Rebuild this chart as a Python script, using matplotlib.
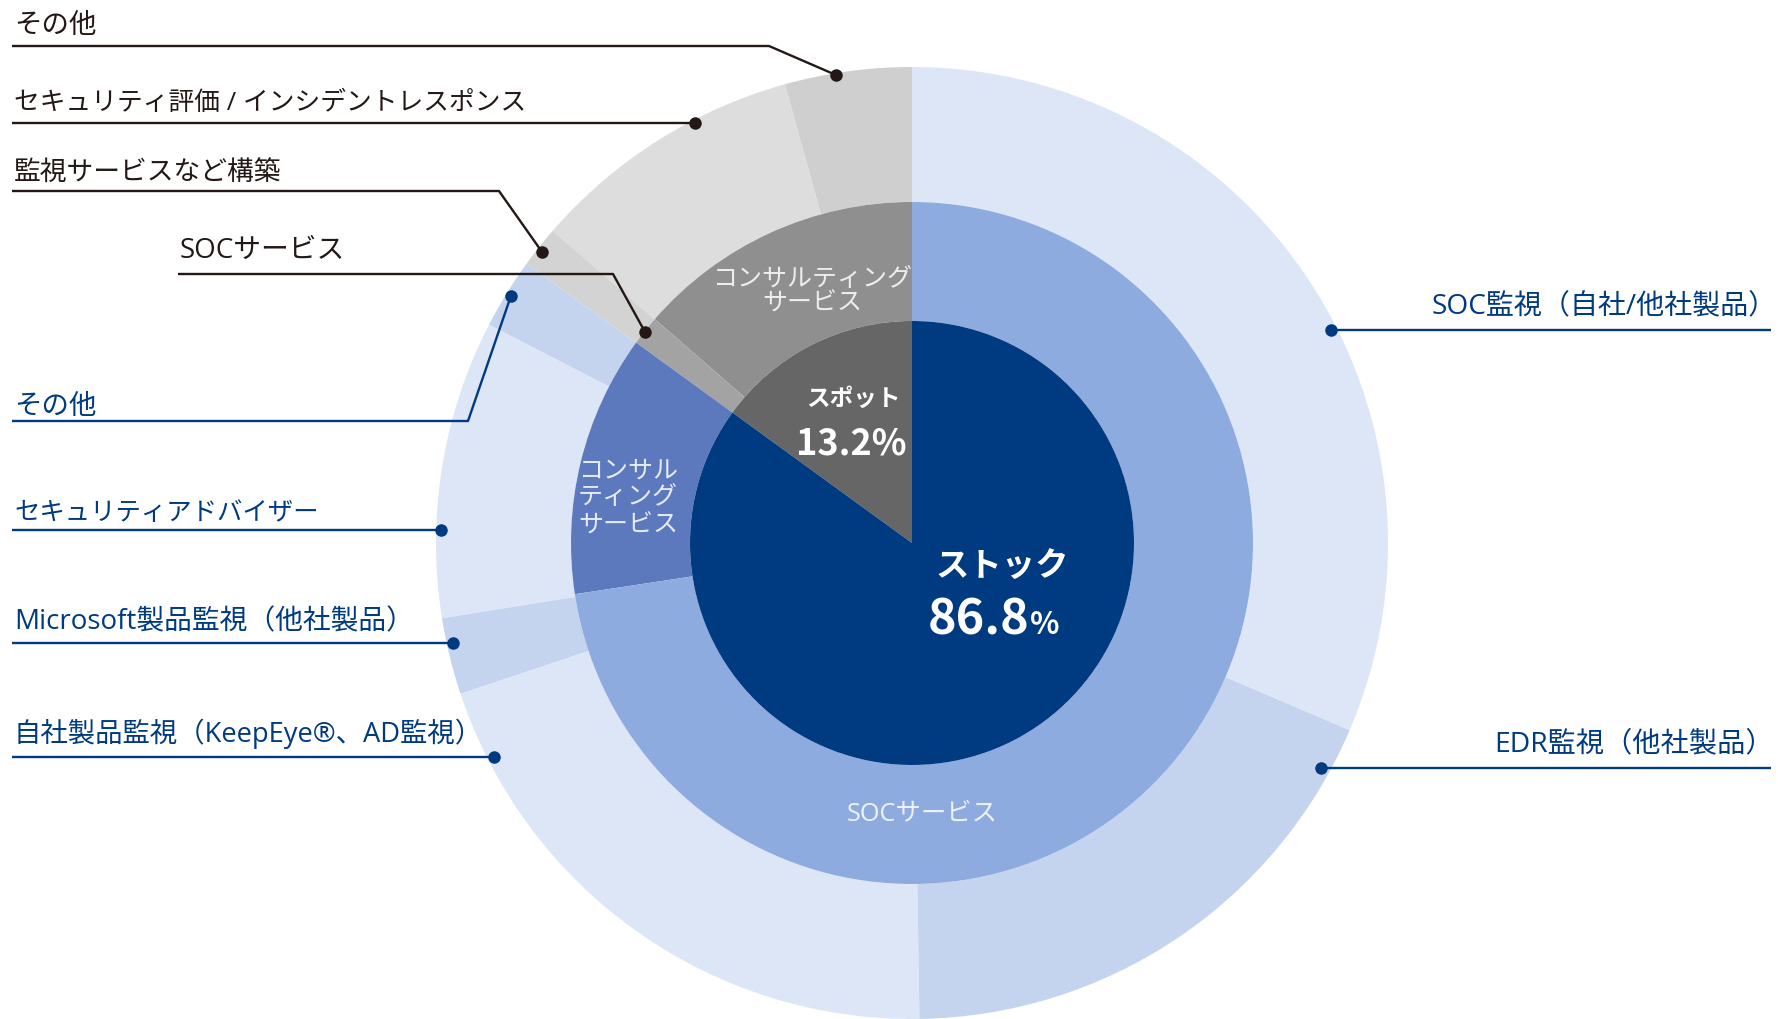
import numpy as np
import matplotlib.pyplot as plt

plt.rcParams['font.family'] = ['Noto Sans CJK JP', 'DejaVu Sans']
LABEL_FONT = ['Open Sans', 'Noto Sans CJK JP', 'DejaVu Sans']

# 内側：スポット / ストック（円上の占有率 %）
inner_labels = ['スポット', 'ストック']
inner_values = [15.0, 85.0]
inner_pct = ['13.2', '86.8']

# 中間：サービス区分
mid_labels = ['コンサルティング\nサービス', 'SOCサービス', 'コンサル\nティング\nサービス', 'SOCサービス']
mid_values = [13.6, 1.4, 12.4, 72.6]

# 外側：内訳
outer_labels = ['その他', 'セキュリティ評価 / インシデントレスポンス', '監視サービスなど構築',
                'その他', 'セキュリティアドバイザー', 'Microsoft製品監視（他社製品）',
                '自社製品監視（KeepEye®、AD監視）', 'EDR監視（他社製品）', 'SOC監視（自社/他社製品）']
outer_values = [4.3, 9.3, 1.4, 2.4, 10.1, 2.6, 20.1, 18.3, 31.4]

inner_colors = ['#666666', '#003a80']
mid_colors = ['#8f8f8f', '#a3a3a3', '#5d79bd', '#8eabe0']
outer_colors = ['#cfcfcf', '#dddddd', '#d3d3d3', '#c5d4ee', '#dce6f7',
                '#c5d4ee', '#dce6f7', '#c5d4ee', '#dce6f7']

GRAY_TXT = '#231815'
BLUE_TXT = '#003a80'

W, H = 1778, 1020
cx, cy = 912, H - 544
R_out, R_mid, R_in = 476, 341, 222

fig = plt.figure(figsize=(W / 100, H / 100), dpi=100)
ax = fig.add_axes([0, 0, 1, 1])

ax.pie(outer_values, radius=R_out, center=(cx, cy), startangle=90, colors=outer_colors,
       wedgeprops=dict(width=R_out - R_mid, linewidth=0))
ax.pie(mid_values, radius=R_mid, center=(cx, cy), startangle=90, colors=mid_colors,
       wedgeprops=dict(width=R_mid - R_in, linewidth=0))
ax.pie(inner_values, radius=R_in, center=(cx, cy), startangle=90, colors=inner_colors,
       wedgeprops=dict(linewidth=0))

ax.set_xlim(0, W)
ax.set_ylim(0, H)
ax.set_aspect('equal')
ax.axis('off')


def polar(angle, r):
    a = np.radians(angle)
    return cx + r * np.cos(a), cy + r * np.sin(a)


# 引き出し線: (テキスト, テキストy, 線y, 折れ点x, 角度, 半径, 色, 開始x, 側, 文字サイズ)
callouts = [
    (outer_labels[0], 26, 47, 769, 99.2, 474, GRAY_TXT, 12, 'left', 19.8),
    (outer_labels[1], 103, None, None, 117.3, 473, GRAY_TXT, 12, 'left', 18.5),
    (outer_labels[2], 174, 192, 499, 141.8, 471, GRAY_TXT, 12, 'left', 19.3),
    (mid_labels[1], 251, 275, 613, 141.7, 340, GRAY_TXT, 178, 'left', 20),
    (outer_labels[3], 407, 422, 468, 148.4, 471, BLUE_TXT, 12, 'left', 19.8),
    (outer_labels[4], 513, None, None, 178.4, 471, BLUE_TXT, 12, 'left', 18.3),
    (outer_labels[5], 622, None, None, 192.3, 470, BLUE_TXT, 12, 'left', 20),
    (outer_labels[6], 734, None, None, 207.1, 470, BLUE_TXT, 12, 'left', 19.7),
    (outer_labels[8], 306, None, None, 27.0, 470, BLUE_TXT, 1777, 'right', 20.2),
    (outer_labels[7], 744, None, None, 331.2, 467, BLUE_TXT, 1774, 'right', 20.3),
]

for text, ty, ly, ex, ang, r, col, x0, side, fs in callouts:
    dx, dy = polar(ang, r)
    if side == 'right':
        xs, ys = [dx, 1771], [dy, dy]
    elif ex is None:
        xs, ys = [x0, dx], [dy, dy]
    else:
        xs, ys = [x0, ex, dx], [H - ly, H - ly, dy]
    ax.plot(xs, ys, color=col, lw=1.7, solid_capstyle='butt', zorder=5)
    ax.plot(dx, dy, 'o', ms=9, color=col, mec='none', zorder=6)
    if side == 'left':
        ax.text(x0 + 2, H - ty, text, ha='left', va='center', fontsize=fs,
                color=col, family=LABEL_FONT)
    else:
        ax.text(x0, H - ty, text, ha='right', va='center', fontsize=fs,
                color=col, family=LABEL_FONT)

# リング内ラベル
ax.text(812, H - 291, mid_labels[0], ha='center', va='center', fontsize=18,
        color='white', alpha=0.85, linespacing=0.92, family=LABEL_FONT)
ax.text(578, H - 498, mid_labels[2], ha='left', va='center', fontsize=18,
        color='white', alpha=0.85, linespacing=1.12, family=LABEL_FONT)
ax.text(922, H - 815, mid_labels[3], ha='center', va='center', fontsize=18.3,
        color='white', alpha=0.85, family=LABEL_FONT)

# 中心ラベル
ax.text(853, H - 399, inner_labels[0], ha='center', va='center', fontsize=17,
        fontweight='bold', color='white')
ax.text(851, H - 444, inner_pct[0] + '%', ha='center', va='center', fontsize=26,
        fontweight='bold', color='white')

ax.text(1002, H - 567, inner_labels[1], ha='center', va='center', fontsize=24,
        fontweight='bold', color='white')
ax.text(1029, H - 620, inner_pct[1], ha='right', va='center', fontsize=35,
        fontweight='bold', color='white')
ax.text(1030, H - 625, '%', ha='left', va='center', fontsize=22,
        fontweight='bold', color='white')

fig.savefig('out.png', dpi=100)
